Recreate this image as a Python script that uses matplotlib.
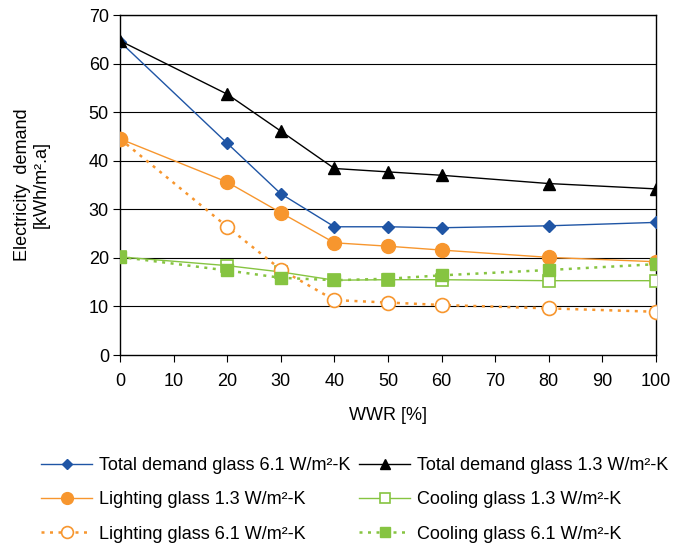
import matplotlib
matplotlib.use("Agg")
import matplotlib.pyplot as plt
from matplotlib.ticker import MultipleLocator

plt.rcParams['font.family'] = ['Liberation Sans', 'DejaVu Sans']

wwr = [0, 20, 30, 40, 50, 60, 80, 100]
total_61 = [64.5, 43.6, 33.2, 26.4, 26.4, 26.2, 26.6, 27.3]
total_13 = [64.7, 53.7, 46.1, 38.4, 37.7, 37.0, 35.3, 34.2]
light_13 = [44.5, 35.6, 29.3, 23.1, 22.4, 21.6, 20.1, 19.2]
cool_13 = [20.2, 18.4, 17.1, 15.4, 15.5, 15.5, 15.3, 15.3]
light_61 = [44.5, 26.4, 17.6, 11.3, 10.8, 10.3, 9.6, 8.9]
cool_61 = [20.2, 17.4, 15.9, 15.4, 15.7, 16.4, 17.5, 18.7]

labels = ["Total demand glass 6.1 W/m²-K", "Total demand glass 1.3 W/m²-K",
          "Lighting glass 1.3 W/m²-K", "Cooling glass 1.3 W/m²-K",
          "Lighting glass 6.1 W/m²-K", "Cooling glass 6.1 W/m²-K"]

blue = "#1F55A5"
orange = "#F7962E"
green = "#86C441"

fig = plt.figure(figsize=(6.76, 5.47), dpi=100)
ax = fig.add_axes([120/676, 1-355/547, 536/676, 340/547])

ax.set_xlim(0, 100)
ax.set_ylim(0, 70)
ax.yaxis.set_major_locator(MultipleLocator(10))
ax.xaxis.set_major_locator(MultipleLocator(10))
for v in range(10, 71, 10):
    ax.axhline(v, color="black", lw=0.8, zorder=1)

l1, = ax.plot(wwr, total_61, color=blue, lw=1.0, marker="D", ms=6, mfc=blue, mec=blue, zorder=5)
l2, = ax.plot(wwr, total_13, color="black", lw=1.0, marker="^", ms=8, mfc="black", mec="black", zorder=5)
l3, = ax.plot(wwr, light_13, color=orange, lw=1.0, marker="o", ms=10, mfc=orange, mec=orange, zorder=4)
l4, = ax.plot(wwr, cool_13, color=green, lw=1.0, marker="s", ms=8, mfc="white", mec=green, mew=1.2, zorder=3)
l5, = ax.plot(wwr, light_61, color=orange, lw=1.8, ls=(0, (1.2, 2.2)), marker="o", ms=10, mfc="white", mec=orange, mew=1.2, zorder=3)
l6, = ax.plot(wwr, cool_61, color=green, lw=1.8, ls=(0, (1.2, 2.2)), marker="s", ms=8, mfc=green, mec=green, zorder=4)

for s in ax.spines.values():
    s.set_color("black")
    s.set_linewidth(1.0)
ax.tick_params(axis="both", labelsize=13, length=5, width=0.8, color="black", direction="out")
ax.tick_params(axis="x", pad=8)
ax.tick_params(axis="y", pad=3)

ax.set_xlabel("WWR [%]", fontsize=13, labelpad=12)
ax.set_ylabel("Electricity  demand\n[kWh/m².a]", fontsize=13, labelpad=28, linespacing=1.15)

# legend filled row-wise: reorder for matplotlib's column-wise filling
order = [0, 2, 4, 1, 3, 5]
handles = [l1, l2, l3, l4, l5, l6]
fig.legend([handles[i] for i in order], [labels[i] for i in order], ncol=2,
           loc="upper left", bbox_to_anchor=(25/676, 1-441/547),
           frameon=False, fontsize=13, handlelength=2.8, handletextpad=0.4,
           columnspacing=0.5, labelspacing=0.95, markerscale=0.85)

fig.savefig("out.png", dpi=100)
